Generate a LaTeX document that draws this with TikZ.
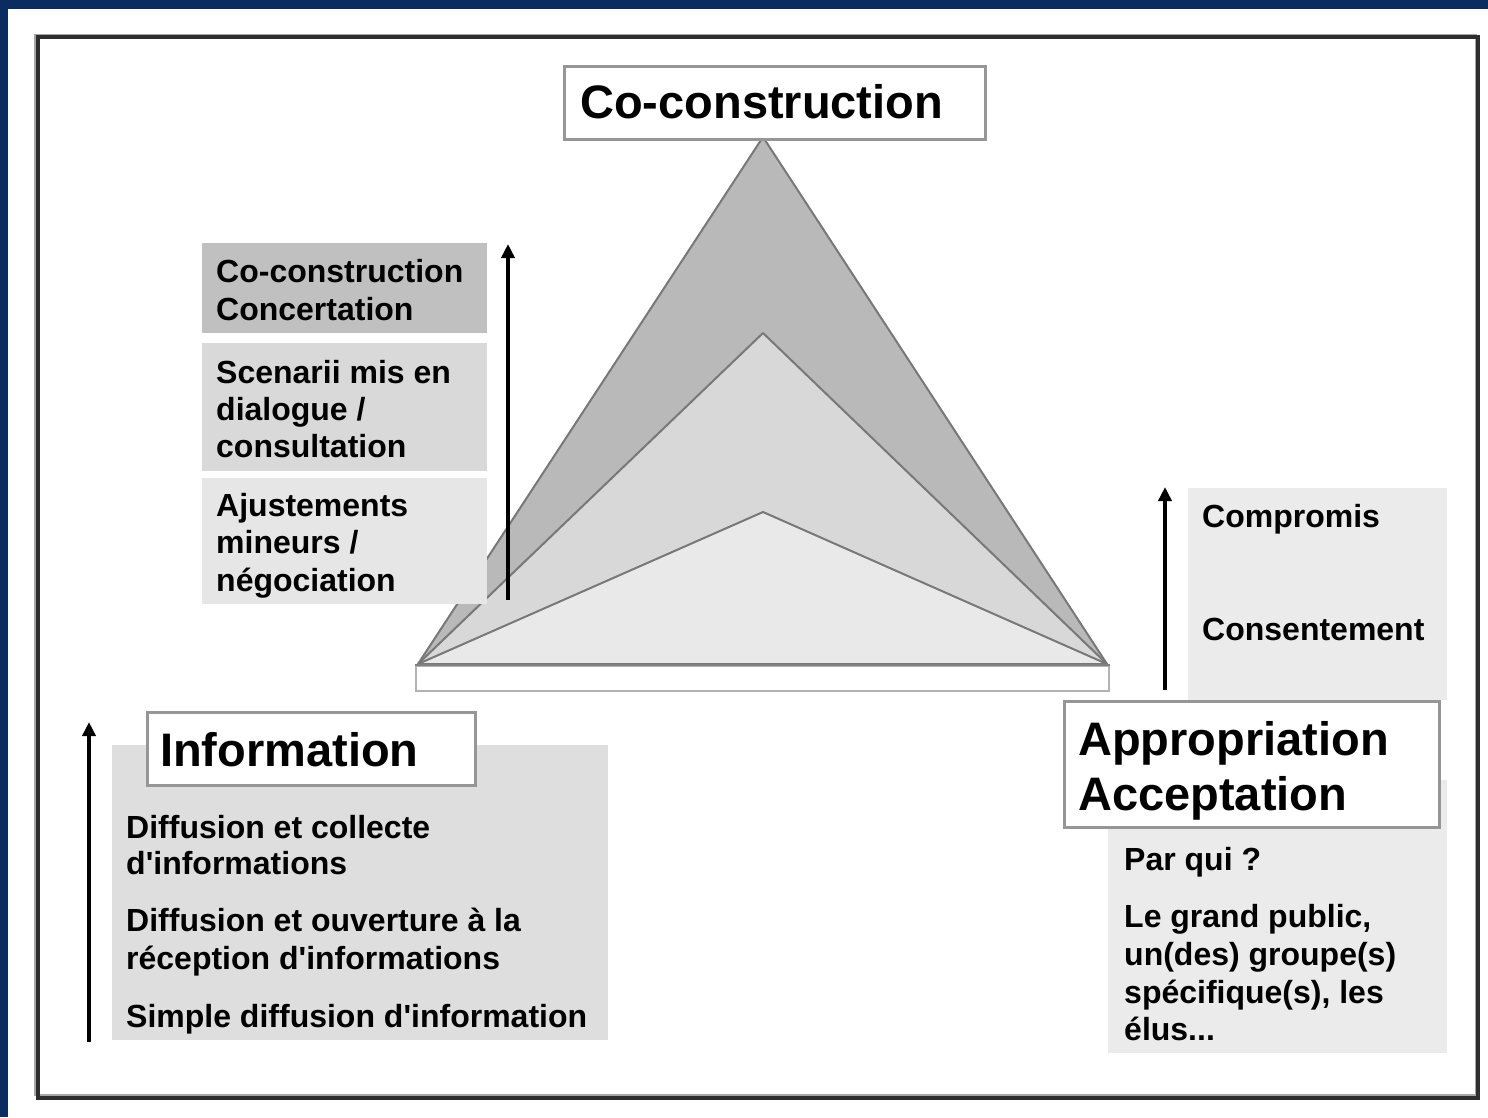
\documentclass[tikz,border=0pt]{standalone}
\usepackage{fontspec}
\setmainfont{Liberation Sans}
\usetikzlibrary{arrows.meta}
\definecolor{frameblue}{RGB}{10,44,96}
\definecolor{triA}{RGB}{185,185,185}
\definecolor{triB}{RGB}{216,216,216}
\definecolor{triC}{RGB}{233,233,233}
\definecolor{triedge}{RGB}{120,120,120}
\definecolor{boxA}{RGB}{192,192,192}
\definecolor{boxB}{RGB}{217,217,217}
\definecolor{boxC}{RGB}{230,230,230}
\definecolor{infogray}{RGB}{222,222,222}
\definecolor{rightgray}{RGB}{235,235,235}
\definecolor{titleedge}{RGB}{150,150,150}
\newcommand{\apos}{\textquotesingle}
\tikzset{
  panel/.style={draw=none, inner sep=0, anchor=north west},
  titlebox/.style={draw=titleedge, line width=2.5pt, fill=white, inner sep=0, anchor=north west},
  txt/.style={anchor=base west, inner sep=0, font=\bfseries\fontsize{32}{37}\selectfont},
  bigtxt/.style={anchor=base west, inner sep=0, font=\bfseries\fontsize{47}{53}\selectfont},
  tri/.style={draw=triedge, line width=2pt, line join=round},
  uparrow/.style={line width=4pt, -{Triangle[width=13pt,length=14pt]}}
}
\begin{document}
\begin{tikzpicture}[x=1pt,y=-1pt]
\useasboundingbox (0,0) rectangle (1488,1117);
\fill[white] (0,0) rectangle (1488,1117);
\fill[frameblue] (0,0) rectangle (1488,9);
\fill[frameblue] (0,0) rectangle (8,1117);
% frame
\draw[line width=2pt, black!35] (35,35) rectangle (1476,1095);
\draw[line width=3.5pt, black!82] (38,37) rectangle (1478,1098);

% triangles
\coordinate (bl) at (418,664);
\coordinate (br) at (1107,664);
\coordinate (apexA) at (763,137);
\coordinate (apexB) at (763,333);
\coordinate (apexC) at (763,512);
\filldraw[tri, fill=triA] (bl) -- (apexA) -- (br) -- cycle;
\filldraw[tri, fill=triB] (bl) -- (apexB) -- (br) -- cycle;
\filldraw[tri, fill=triC] (bl) -- (apexC) -- (br) -- cycle;
% base slab
\node[panel, draw=black!30, line width=2pt, fill=white, minimum width=693pt, minimum height=25pt] (slab) at (415,665) {};
\draw[line width=2pt, black!50] (slab.north west) -- (slab.north east);

% top title
\node[titlebox, minimum width=421pt, minimum height=73pt] (coBox) at (563,65) {};
\node[bigtxt] (coTitle) at (580,118) {Co-construction};

% left level boxes
\node[panel, fill=boxA, minimum width=285pt, minimum height=90pt] (lvlA) at (202,243) {};
\node[panel, fill=boxB, minimum width=285pt, minimum height=128pt] (lvlB) at (202,343) {};
\node[panel, fill=boxC, minimum width=285pt, minimum height=126pt] (lvlC) at (202,478) {};
\node[txt] (a1) at (216,282) {Co-construction};
\node[txt] (a2) at (216,320) {Concertation};
\node[txt] (b1) at (216,383) {Scenarii mis en};
\node[txt] (b2) at (216,420) {dialogue /};
\node[txt] (b3) at (216,457) {consultation};
\node[txt] (c1) at (216,516) {Ajustements};
\node[txt] (c2) at (216,553) {mineurs /};
\node[txt] (c3) at (216,591) {négociation};
\coordinate (midBot) at (508,600);
\coordinate (midTop) at (508,244);
\draw[uparrow] (midBot) -- (midTop);

% information block
\node[panel, fill=infogray, minimum width=496pt, minimum height=295pt] (infoPanel) at (112,745) {};
\node[titlebox, minimum width=328pt, minimum height=73pt] (infoBox) at (146,711) {};
\node[bigtxt] (infoTitle) at (160,766) {Information};
\node[txt] (i1) at (126,838) {Diffusion et collecte};
\node[txt] (i2) at (126,874) {d\apos informations};
\node[txt] (i3) at (126,931) {Diffusion et ouverture à la};
\node[txt] (i4) at (126,969) {réception d\apos informations};
\node[txt] (i5) at (126,1027) {Simple diffusion d\apos information};
\coordinate (infoBot) at (89,1042);
\coordinate (infoTop) at (89,722);
\draw[uparrow] (infoBot) -- (infoTop);

% right block
\node[panel, fill=rightgray, minimum width=259pt, minimum height=212pt] (rTop) at (1188,488) {};
\node[panel, fill=rightgray, minimum width=339pt, minimum height=273pt] (rBot) at (1108,780) {};
\node[txt] (r1) at (1202,527) {Compromis};
\node[txt] (r2) at (1202,640) {Consentement};
\coordinate (rArrBot) at (1165,690);
\coordinate (rArrTop) at (1165,487);
\draw[uparrow] (rArrBot) -- (rArrTop);
\node[titlebox, minimum width=375pt, minimum height=126pt] (apBox) at (1063,700) {};
\node[bigtxt] (ap1) at (1078,755) {Appropriation};
\node[bigtxt] (ap2) at (1078,810) {Acceptation};
\node[txt] (p1) at (1124,870) {Par qui ?};
\node[txt] (p2) at (1124,927) {Le grand public,};
\node[txt] (p3) at (1124,965) {un(des) groupe(s)};
\node[txt] (p4) at (1124,1003) {spécifique(s), les};
\node[txt] (p5) at (1124,1040) {élus...};
\end{tikzpicture}
\end{document}
